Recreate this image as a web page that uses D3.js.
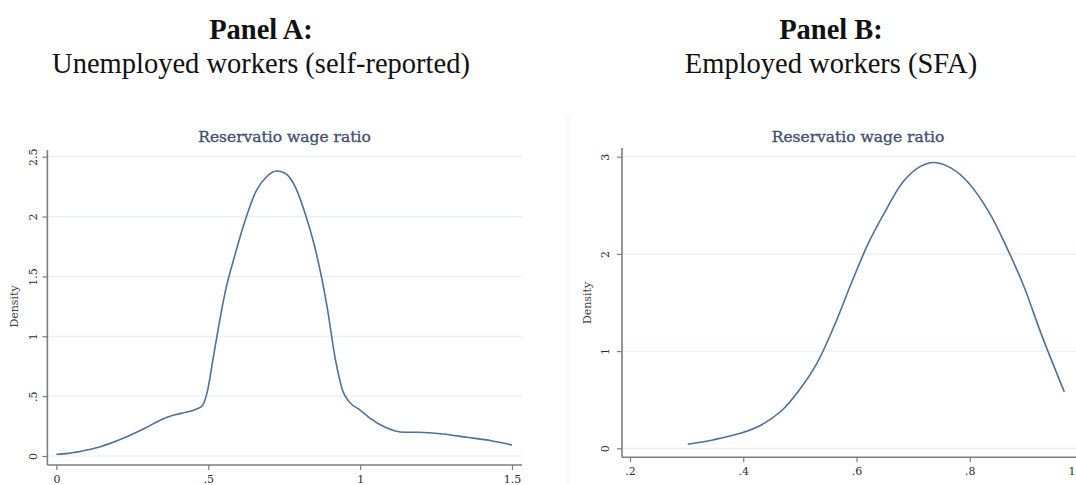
<!DOCTYPE html>
<html>
<head>
<meta charset="utf-8">
<script src="https://cdn.jsdelivr.net/npm/d3@7"></script>
<style>
  body { margin: 0; background: #fff; }
  svg { display: block; }
</style>
</head>
<body>
<script>
// page size
var W = 1076, H = 485;

// Panel A: unemployed workers, kernel density
var aX = [0.00, 0.04, 0.10, 0.145, 0.22, 0.29, 0.36, 0.41, 0.46, 0.48, 0.498, 0.515, 0.532, 0.555, 0.589, 0.623, 0.657, 0.691, 0.725, 0.754, 0.788, 0.822, 0.856, 0.891, 0.919, 0.942, 0.965, 1.0, 1.033, 1.079, 1.147, 1.192, 1.272, 1.352, 1.432, 1.50];
var aY = [0.014, 0.022, 0.05, 0.078, 0.148, 0.23, 0.32, 0.356, 0.39, 0.42, 0.55, 0.80, 1.05, 1.36, 1.69, 1.98, 2.21, 2.33, 2.38, 2.36, 2.24, 2.00, 1.69, 1.25, 0.80, 0.55, 0.45, 0.384, 0.315, 0.245, 0.198, 0.198, 0.184, 0.156, 0.128, 0.092];
var aXTicks = [0, 0.5, 1, 1.5];
var aXLabels = ["0", ".5", "1", "1.5"];
var aYTicks = [0, 0.5, 1, 1.5, 2, 2.5];
var aYLabels = ["0", ".5", "1", "1.5", "2", "2.5"];

// Panel B: employed workers (SFA)
var bX = [0.302, 0.346, 0.395, 0.432, 0.469, 0.499, 0.530, 0.560, 0.591, 0.621, 0.652, 0.682, 0.713, 0.737, 0.768, 0.798, 0.835, 0.865, 0.896, 0.926, 0.967];
var bY = [0.041, 0.086, 0.154, 0.24, 0.394, 0.60, 0.874, 1.25, 1.70, 2.11, 2.45, 2.74, 2.90, 2.94, 2.88, 2.73, 2.42, 2.07, 1.66, 1.18, 0.58];
var bXTicks = [0.2, 0.4, 0.6, 0.8, 1.0];
var bXLabels = [".2", ".4", ".6", ".8", "1"];
var bYTicks = [0, 1, 2, 3];
var bYLabels = ["0", "1", "2", "3"];

var headers = [
  { bold: "Panel A:", sub: "Unemployed workers (self-reported)", cx: 261 },
  { bold: "Panel B:", sub: "Employed workers (SFA)", cx: 831 }
];
var plotTitle = "Reservatio wage ratio";
var yTitle = "Density";

var lineColor = "#4d7197";
var gridColor = "#e6f0f1";
var axisColor = "#7d7d7d";
var textColor = "#2e2e2e";
var titleColor = "#42506f";
var tickFont = "'DejaVu Serif', serif";

var svg = d3.select("body").append("svg")
  .attr("width", W)
  .attr("height", H);

svg.append("rect").attr("width", W).attr("height", H).attr("fill", "#fff");

// panel headers
headers.forEach(function(h) {
  svg.append("text")
    .attr("x", h.cx).attr("y", 39)
    .attr("text-anchor", "middle")
    .style("font-family", "'Liberation Serif', 'Times New Roman', serif")
    .style("font-size", "28.5px")
    .style("font-weight", "bold")
    .attr("fill", "#111")
    .text(h.bold);
  svg.append("text")
    .attr("x", h.cx).attr("y", 73)
    .attr("text-anchor", "middle")
    .style("font-family", "'Liberation Serif', 'Times New Roman', serif")
    .style("font-size", "28.5px")
    .attr("fill", "#111")
    .text(h.sub);
});

// faint edge of the second pasted picture
svg.append("line")
  .attr("x1", 568).attr("x2", 568)
  .attr("y1", 115).attr("y2", H)
  .attr("stroke", "#f1f1f1").attr("stroke-width", 1);

function drawPanel(p) {
  var x = d3.scaleLinear().domain(p.xDomain).range(p.xRange);
  var y = d3.scaleLinear().domain(p.yDomain).range(p.yRange);
  var g = svg.append("g");

  // gridlines
  g.selectAll(".grid")
    .data(p.yTicks)
    .enter().append("line")
    .attr("x1", p.axisX + 1).attr("x2", p.gridEnd)
    .attr("y1", d => y(d)).attr("y2", d => y(d))
    .attr("stroke", gridColor).attr("stroke-width", 1.2);

  // y axis
  var yAxis = d3.axisLeft(y)
    .tickValues(p.yTicks)
    .tickSize(5)
    .tickPadding(7)
    .tickFormat((d, i) => p.yLabels[i]);
  var ya = g.append("g")
    .attr("transform", "translate(" + p.axisX + ",0)")
    .call(yAxis);
  ya.select(".domain").remove();
  ya.append("line")
    .attr("x1", 0).attr("x2", 0)
    .attr("y1", p.axisTop).attr("y2", p.axisY)
    .attr("stroke", axisColor).attr("stroke-width", 1.6);
  ya.selectAll(".tick line").attr("stroke", axisColor).attr("stroke-width", 1.2);
  ya.selectAll(".tick text")
    .attr("x", null).attr("dy", null)
    .attr("text-anchor", "middle")
    .attr("transform", "translate(" + (p.yLabelX - p.axisX) + ",0) rotate(-90) translate(0,4)")
    .style("font-family", tickFont)
    .style("font-size", "11px")
    .attr("fill", textColor);

  // x axis
  var xAxis = d3.axisBottom(x)
    .tickValues(p.xTicks)
    .tickSize(5)
    .tickPadding(5)
    .tickFormat((d, i) => p.xLabels[i]);
  var xa = g.append("g")
    .attr("transform", "translate(0," + p.axisY + ")")
    .call(xAxis);
  xa.select(".domain").remove();
  xa.append("line")
    .attr("x1", p.axisX).attr("x2", p.xAxisEnd)
    .attr("y1", 0).attr("y2", 0)
    .attr("stroke", axisColor).attr("stroke-width", 1.6);
  xa.selectAll(".tick line").attr("stroke", axisColor).attr("stroke-width", 1.2);
  xa.selectAll(".tick text")
    .style("font-family", tickFont)
    .style("font-size", "11px")
    .attr("fill", textColor);
  // a label whose tick falls past the page edge is pulled back inside
  xa.selectAll(".tick")
    .filter(d => x(d) > W - 6)
    .select("text")
    .attr("text-anchor", "end")
    .attr("x", d => W - 1 - x(d));

  // plot title
  g.append("text")
    .attr("x", p.titleX).attr("y", 142)
    .attr("text-anchor", "middle")
    .style("font-family", tickFont)
    .style("font-size", "15.5px")
    .attr("fill", titleColor)
    .attr("stroke", titleColor)
    .attr("stroke-width", 0.35)
    .text(plotTitle);

  // y title
  g.append("text")
    .attr("transform", "translate(" + p.yTitleX + "," + p.yTitleY + ") rotate(-90)")
    .attr("text-anchor", "middle")
    .style("font-family", tickFont)
    .style("font-size", "11px")
    .attr("fill", "#444450")
    .text(yTitle);

  // density curve
  var pts = p.xs.map((d, i) => [d, p.ys[i]]);
  var line = d3.line()
    .x(d => x(d[0]))
    .y(d => y(d[1]))
    .curve(p.curve);
  g.append("path")
    .datum(pts)
    .attr("d", line)
    .attr("fill", "none")
    .attr("stroke", lineColor)
    .attr("stroke-width", 1.6);
}

drawPanel({
  xs: aX, ys: aY,
  xTicks: aXTicks, xLabels: aXLabels, yTicks: aYTicks, yLabels: aYLabels,
  xDomain: [0, 1.5], xRange: [56.4, 512],
  yDomain: [0, 2.5], yRange: [456, 156.7],
  axisX: 47.4, axisY: 465, axisTop: 150, xAxisEnd: 522, gridEnd: 522,
  yLabelX: 32.5, titleX: 284.5, yTitleX: 18, yTitleY: 306.5,
  curve: d3.curveMonotoneX
});

drawPanel({
  xs: bX, ys: bY,
  xTicks: bXTicks, xLabels: bXLabels, yTicks: bYTicks, yLabels: bYLabels,
  xDomain: [0.2, 1.0], xRange: [630, 1083],
  yDomain: [0, 3], yRange: [448.3, 156.7],
  axisX: 622, axisY: 457.3, axisTop: 148, xAxisEnd: W, gridEnd: W,
  yLabelX: 605, titleX: 858, yTitleX: 591, yTitleY: 303,
  curve: d3.curveCatmullRom
});
</script>
</body>
</html>
